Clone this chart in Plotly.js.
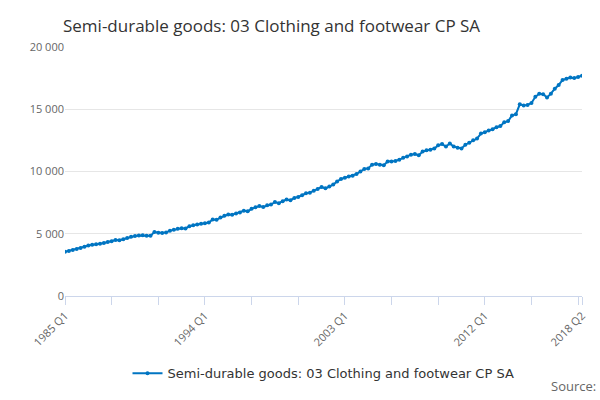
<!DOCTYPE html>
<html>
<head>
<meta charset="utf-8">
<script src="https://cdn.plot.ly/plotly-3.0.1.min.js"></script>
<style>body{margin:0}#chart{width:600px;height:400px}</style>
</head>
<body>
<div id="chart"></div>
<script>
const startYear = 1985;
const values = [
  3550, 3620, 3700, 3780,
  3850, 3950, 4050, 4120,
  4150, 4200, 4260, 4330,
  4400, 4500, 4480, 4560,
  4650, 4760, 4820, 4850,
  4870, 4840, 4830, 5150,
  5080, 5060, 5100, 5250,
  5330, 5400, 5450, 5430,
  5600, 5680, 5750, 5800,
  5850, 5900, 6150, 6120,
  6300, 6450, 6550, 6530,
  6620, 6700, 6850, 6800,
  7000, 7120, 7220, 7150,
  7280, 7350, 7550, 7450,
  7620, 7750, 7700, 7880,
  7950, 8100, 8250, 8300,
  8450, 8600, 8750, 8650,
  8800, 8950, 9200, 9400,
  9500, 9600, 9650, 9800,
  10000, 10200, 10250, 10550,
  10600, 10550, 10500, 10800,
  10800, 10850, 10950, 11100,
  11200, 11350, 11400, 11300,
  11600, 11700, 11750, 11850,
  12100, 12200, 12000, 12250,
  12000, 11900, 11850, 12150,
  12300, 12500, 12650, 13050,
  13150, 13300, 13400, 13550,
  13650, 13950, 14050, 14500,
  14600, 15400, 15300, 15350,
  15500, 16000, 16250, 16200,
  15950, 16250, 16650, 16950,
  17350, 17450, 17550, 17500,
  17600, 17700
];
const labels = values.map((v, i) => `${startYear + Math.floor(i / 4)} Q${(i % 4) + 1}`);
const tickLabels = ["1985 Q1", "1994 Q1", "2003 Q1", "2012 Q1", "2018 Q2"];
const tickVals = labels.filter((l, i) => i % 12 === 0 || l === "2018 Q2");

Plotly.newPlot("chart", [{
  type: "scatter",
  mode: "lines+markers",
  x: labels,
  y: values,
  name: "Semi-durable goods: 03 Clothing and footwear CP SA",
  line: { color: "#0075c2", width: 2 },
  marker: { color: "#0075c2", size: 4 },
}], {
  width: 600,
  height: 400,
  font: { family: "Open Sans", color: "#444" },
  title: { text: "Semi-durable goods: 03 Clothing and footwear CP SA", x: 0.105, xanchor: "left", y: 0.95, font: { size: 17, color: "#333" } },
  margin: { l: 65, r: 18, t: 47, b: 88 },
  paper_bgcolor: "#fff",
  plot_bgcolor: "#fff",
  showlegend: true,
  legend: { orientation: "h", x: 0.5, xanchor: "center", y: -0.25, font: { size: 13, color: "#333", family: "DejaVu Sans" } },
  xaxis: {
    type: "category",
    tickmode: "array",
    tickvals: tickVals,
    ticktext: tickVals.map((l) => tickLabels.includes(l) ? l : ""),
    tickangle: -45,
    ticks: "outside",
    ticklen: 8,
    tickcolor: "#ccd6eb",
    showline: true,
    linecolor: "#ccd6eb",
    showgrid: false,
    tickfont: { size: 11, color: "#666" },
    range: [0, values.length - 1],
  },
  yaxis: {
    range: [0, 20000],
    dtick: 5000,
    tickformat: ",",
    gridcolor: "#e6e6e6",
    zeroline: false,
    tickfont: { size: 11, color: "#666" },
  },
  separators: ". ",
  annotations: [{ text: "Source:", xref: "paper", yref: "paper", x: 1.03, y: -0.36, xanchor: "right", yanchor: "middle", showarrow: false, font: { size: 13, color: "#666" } }],
}, { displayModeBar: false });
</script>
</body>
</html>
